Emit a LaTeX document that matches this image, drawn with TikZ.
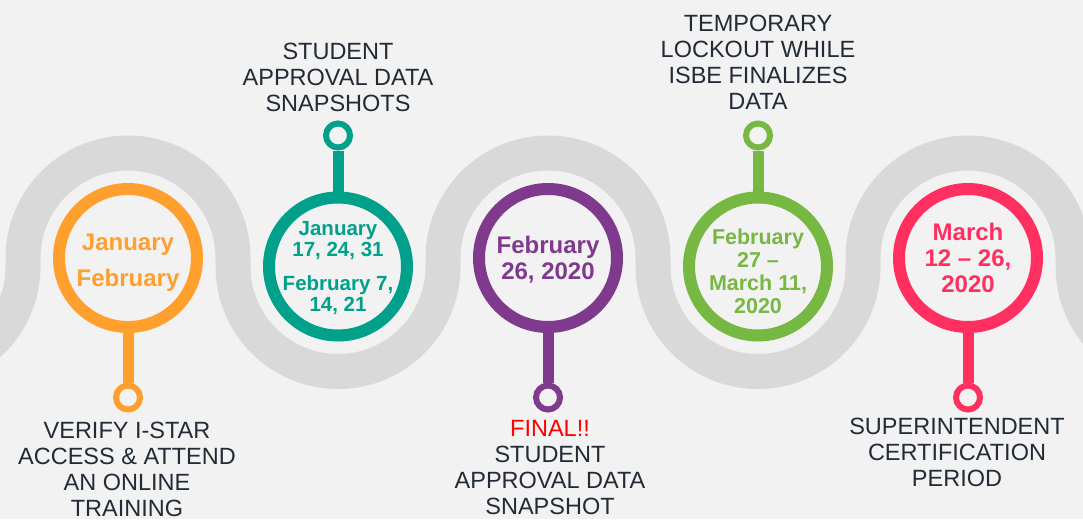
\documentclass[tikz,border=0pt]{standalone}
\usepackage{fontspec}
\setmainfont{Liberation Sans}
\usetikzlibrary{backgrounds}
\definecolor{bgc}{HTML}{F2F2F2}
\definecolor{bandc}{HTML}{D9D9D9}
\definecolor{darktext}{HTML}{222B36}
\definecolor{corange}{HTML}{FF9F2E}
\definecolor{cteal}{HTML}{00A08A}
\definecolor{cpurple}{HTML}{7F3A8D}
\definecolor{cgreen}{HTML}{77B843}
\definecolor{cred}{HTML}{FF2F5F}
\definecolor{finalred}{HTML}{FF0000}
\begin{document}
\begin{tikzpicture}[x=1pt,y=1pt,
  ringnode/.style={circle, draw=#1, line width=12pt, fill=bgc, minimum size=138pt, inner sep=0pt},
  pinnode/.style={circle, draw=#1, line width=6pt, fill=bgc, minimum size=24pt, inner sep=0pt},
  stemline/.style={draw=#1, line width=11pt},
  ctext/.style={align=center, inner sep=0pt, anchor=north, text=#1},
  lbl/.style={font=\fontsize{23.5}{26}\selectfont, text=darktext, align=center, inner sep=0pt, anchor=north},
  band/.style={draw=bandc, line width=35pt}
]
\useasboundingbox (0,0) rectangle (1083,-519);

% circles
\node[ringnode=corange] (c1) at (128,-258) {};
\node[ringnode=cteal]   (c2) at (338,-266.5) {};
\node[ringnode=cpurple] (c3) at (548,-258) {};
\node[ringnode=cgreen]  (c4) at (758,-266.5) {};
\node[ringnode=cred]    (c5) at (968,-258) {};

% pins
\node[pinnode=corange] (p1) at (128,-397.5) {};
\node[pinnode=cteal]   (p2) at (338,-135.5) {};
\node[pinnode=cpurple] (p3) at (548,-397.5) {};
\node[pinnode=cgreen]  (p4) at (758,-135.5) {};
\node[pinnode=cred]    (p5) at (968,-397.5) {};

% circle texts
\node[ctext=corange, font=\bfseries\fontsize{24}{36.7}\selectfont] (t1) at (128,-233.5) {January\\February};
\node[ctext=cteal, font=\bfseries\fontsize{20.5}{21}\selectfont] (t2) at (338,-220.7) {January\\17, 24, 31\\[13.7pt]February 7,\\14, 21};
\node[ctext=cpurple, font=\bfseries\fontsize{24}{25.6}\selectfont] (t3) at (548,-236) {February\\26, 2020};
\node[ctext=cgreen, font=\bfseries\fontsize{21.5}{23}\selectfont] (t4) at (758,-228.3) {February\\27 –\\March 11,\\2020};
\node[ctext=cred, font=\bfseries\fontsize{24}{26.3}\selectfont] (t5) at (968,-222.7) {March\\12 – 26,\\2020};

% labels
\node[lbl] (l1) at (127,-421.7) {VERIFY I-STAR\\ACCESS \& ATTEND\\AN ONLINE\\TRAINING};
\node[lbl] (l2) at (338,-43.3) {STUDENT\\APPROVAL DATA\\SNAPSHOTS};
\node[lbl] (l3) at (550,-420) {\textcolor{finalred}{FINAL!!}\\STUDENT\\APPROVAL DATA\\SNAPSHOT};
\node[lbl] (l4) at (758,-15) {TEMPORARY\\LOCKOUT WHILE\\ISBE FINALIZES\\DATA};
\node[lbl] (l5) at (957,-417.7) {SUPERINTENDENT\\CERTIFICATION\\PERIOD};

\begin{scope}[on background layer]
\fill[bgc] (0,0) rectangle (1083,-519);
\draw[band] (-187,-266.5) arc[start angle=180,end angle=360,radius=105]
  -- (23,-258) arc[start angle=180,end angle=0,radius=105]
  -- (233,-266.5) arc[start angle=180,end angle=360,radius=105]
  -- (443,-258) arc[start angle=180,end angle=0,radius=105]
  -- (653,-266.5) arc[start angle=180,end angle=360,radius=105]
  -- (863,-258) arc[start angle=180,end angle=0,radius=105]
  -- (1073,-266.5) arc[start angle=180,end angle=360,radius=105];
\draw[stemline=corange] (c1.south) -- (p1.north);
\draw[stemline=cteal]   (c2.north) -- (p2.south);
\draw[stemline=cpurple] (c3.south) -- (p3.north);
\draw[stemline=cgreen]  (c4.north) -- (p4.south);
\draw[stemline=cred]    (c5.south) -- (p5.north);
\end{scope}
\end{tikzpicture}
\end{document}
